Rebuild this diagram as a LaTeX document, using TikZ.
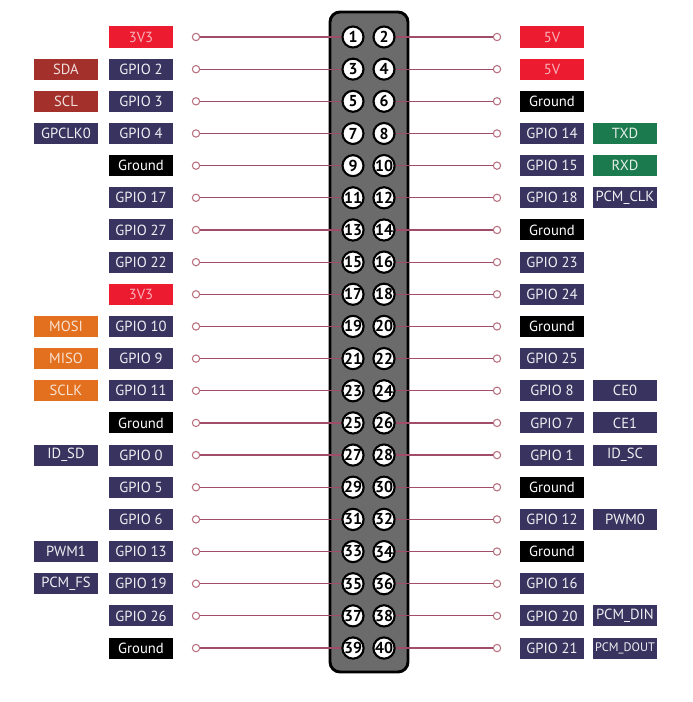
\documentclass[tikz,border=0pt]{standalone}
\usepackage{fontspec}
\setmainfont{PT Sans}
\usepackage{xcolor}
\usepackage{tikz}

\definecolor{pwrred}{HTML}{EC1B30}
\definecolor{pwrtext}{HTML}{F8B4BC}
\definecolor{i2cred}{HTML}{A3302A}
\definecolor{gpionavy}{HTML}{39335F}
\definecolor{uartgreen}{HTML}{1B7A4E}
\definecolor{spiorange}{HTML}{E2701F}
\definecolor{wirepink}{HTML}{A04D6A}
\definecolor{dotpink}{HTML}{B8707F}
\definecolor{headergray}{HTML}{6B6B6B}

\begin{document}
\begin{tikzpicture}[x=0.03cm, y=-0.03cm,
  tag/.style={minimum width=1.92cm, minimum height=0.63cm, inner sep=0pt,
    font=\fontsize{12.5}{13}\selectfont, text=white},
  pwr/.style={tag, fill=pwrred, text=pwrtext},
  gnd/.style={tag, fill=black},
  gpio/.style={tag, fill=gpionavy, text=white!92!gpionavy},
  iic/.style={tag, fill=i2cred, text=white!85!i2cred},
  uart/.style={tag, fill=uartgreen, text=white!88!uartgreen},
  spi/.style={tag, fill=spiorange, text=white!80!spiorange},
  pin/.style={circle, draw=black, line width=1.8pt, fill=white, minimum size=0.63cm,
    inner sep=0pt, font=\bfseries\fontsize{13.5}{14}\selectfont},
  dot/.style={circle, draw=dotpink, line width=0.9pt, fill=white, minimum size=0.22cm, inner sep=0pt},
  wire/.style={draw=wirepink, line width=1pt}]
  \useasboundingbox (0,0) rectangle (692,702);

  % the header
  \draw[fill=headergray, line width=2.5pt, rounded corners=0.3cm] (330,12) rectangle (408,672);

  % odd pins, left side
  \foreach \r/\name/\sty in {1/3V3/pwr, 2/GPIO 2/gpio, 3/GPIO 3/gpio, 4/GPIO 4/gpio,
    5/Ground/gnd, 6/GPIO 17/gpio, 7/GPIO 27/gpio, 8/GPIO 22/gpio, 9/3V3/pwr,
    10/GPIO 10/gpio, 11/GPIO 9/gpio, 12/GPIO 11/gpio, 13/Ground/gnd, 14/GPIO 0/gpio,
    15/GPIO 5/gpio, 16/GPIO 6/gpio, 17/GPIO 13/gpio, 18/GPIO 19/gpio, 19/GPIO 26/gpio,
    20/Ground/gnd}
  {
    \pgfmathsetmacro\y{37+(\r-1)*32.16}
    \pgfmathtruncatemacro\p{2*\r-1}
    \node[\sty] (L\r) at (141,\y) {\name};
    \node[dot] (dl\r) at (196,\y) {};
    \node[pin] (pin\p) at (353,\y) {\p};
    \draw[wire] (dl\r) -- (pin\p);
  }

  % even pins, right side
  \foreach \r/\name/\sty in {1/5V/pwr, 2/5V/pwr, 3/Ground/gnd, 4/GPIO 14/gpio,
    5/GPIO 15/gpio, 6/GPIO 18/gpio, 7/Ground/gnd, 8/GPIO 23/gpio, 9/GPIO 24/gpio,
    10/Ground/gnd, 11/GPIO 25/gpio, 12/GPIO 8/gpio, 13/GPIO 7/gpio, 14/GPIO 1/gpio,
    15/Ground/gnd, 16/GPIO 12/gpio, 17/Ground/gnd, 18/GPIO 16/gpio, 19/GPIO 20/gpio,
    20/GPIO 21/gpio}
  {
    \pgfmathsetmacro\y{37+(\r-1)*32.16}
    \pgfmathtruncatemacro\p{2*\r}
    \node[\sty] (R\r) at (552,\y) {\name};
    \node[dot] (dr\r) at (497,\y) {};
    \node[pin] (pin\p) at (384,\y) {\p};
    \draw[wire] (pin\p) -- (dr\r);
  }

  % alternate functions
  \foreach \r/\name/\sty in {2/SDA/iic, 3/SCL/iic, 4/GPCLK0/gpio, 10/MOSI/spi,
    11/MISO/spi, 12/SCLK/spi, 14/ID\_SD/gpio, 17/PWM1/gpio, 18/PCM\_FS/gpio}
  {
    \pgfmathsetmacro\y{37+(\r-1)*32.16}
    \node[\sty] (LA\r) at (66,\y) {\name};
  }
  \foreach \r/\name/\sty in {4/TXD/uart, 5/RXD/uart, 6/PCM\_CLK/gpio, 12/CE0/gpio,
    13/CE1/gpio, 14/ID\_SC/gpio, 16/PWM0/gpio, 19/PCM\_DIN/gpio}
  {
    \pgfmathsetmacro\y{37+(\r-1)*32.16}
    \node[\sty] (RA\r) at (625,\y) {\name};
  }
  \node[gpio, font=\fontsize{10.5}{12}\selectfont] (RA20) at (625,648) {PCM\_DOUT};
\end{tikzpicture}
\end{document}
